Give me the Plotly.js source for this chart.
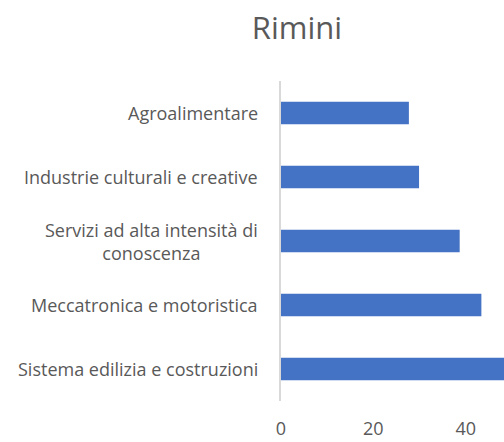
<!DOCTYPE html>
<html>
<head>
<meta charset="utf-8">
<script src="https://cdn.plot.ly/plotly-3.0.1.min.js"></script>
<style>html,body{margin:0;padding:0;background:#fff;}#chart{width:504px;height:442px;}</style>
</head>
<body>
<div id="chart"></div>
<script>
const chartTitle = "Rimini";
const categories = [
  "Agroalimentare",
  "Industrie culturali e creative",
  "Servizi ad alta intensità di<br>conoscenza",
  "Meccatronica e motoristica",
  "Sistema edilizia e costruzioni"
];
const values = [27.7, 29.9, 38.7, 43.4, 50];
const tickValues = [0, 20, 40];
const tickLabels = ["0", "20", "40"];

const textColor = "#595959";
const fontFamily = "Open Sans, sans-serif";

const trace = {
  type: "bar",
  orientation: "h",
  x: values,
  y: categories,
  marker: {color: "#4472C4"},
  hoverinfo: "x+y"
};

const annotations = categories.map(c => ({
  xref: "paper", yref: "y",
  x: 0, y: c,
  xanchor: "right", yanchor: "middle",
  xshift: -21,
  align: "center",
  text: c,
  showarrow: false,
  font: {family: fontFamily, size: 18, color: textColor}
}));

const layout = {
  width: 504, height: 442,
  margin: {l: 281, r: 0, t: 81, b: 41, pad: 0},
  paper_bgcolor: "#fff", plot_bgcolor: "#fff",
  showlegend: false,
  bargap: 0.65,
  title: {
    text: chartTitle,
    font: {family: fontFamily, size: 31, color: textColor},
    xref: "container", x: 297/504, xanchor: "center",
    yref: "container", y: 1 - 28/442, yanchor: "middle"
  },
  xaxis: {
    range: [0, 48.3],
    tickmode: "array", tickvals: tickValues, ticktext: tickLabels,
    showgrid: false, zeroline: false, showline: false,
    ticks: "",
    ticklabelstandoff: 15,
    tickfont: {family: fontFamily, size: 18, color: textColor},
    fixedrange: true
  },
  yaxis: {
    type: "category",
    autorange: "reversed",
    showticklabels: false,
    showgrid: false, zeroline: false,
    showline: true, linecolor: "#d9d9d9", linewidth: 2,
    ticks: "",
    fixedrange: true
  },
  annotations: annotations
};

Plotly.newPlot("chart", [trace], layout, {displayModeBar: false, staticPlot: true});
</script>
</body>
</html>
